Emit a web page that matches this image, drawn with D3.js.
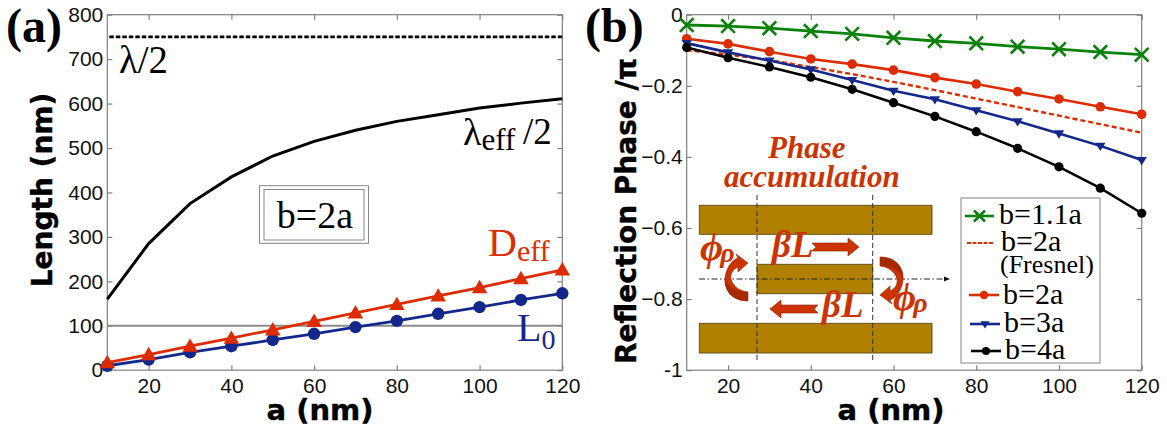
<!DOCTYPE html>
<html><head><meta charset="utf-8">
<style>
html,body{margin:0;padding:0;background:#fff}
svg{display:block}
.tick text{font-family:"Liberation Sans",Arial,sans-serif;font-size:21px;fill:#111}
.serif{font-family:"Liberation Serif",serif}
.title{font-family:"DejaVu Sans",sans-serif;font-weight:bold;font-size:28px;fill:#000;stroke:#000;stroke-width:.4px}
</style>
<script src="https://cdn.jsdelivr.net/npm/d3@7/dist/d3.min.js"></script>
</head><body>
<svg id="c" width="1167" height="434"></svg>
<script>
const aValues=[10,20,30,40,50,60,70,80,90,100,110,120];
const lambdaHalf=750;
const referenceLine=100;
const lambdaEff=[160,285,375,435,482,515,540,560,575,590,601,611];
const dEff=[17,35,54,72,91,110,129,148,167,186,206,226];
const l0=[10,24,40,54,68,82,97,111,127,142,158,173];
const phase11=[-.029,-.032,-.038,-.046,-.054,-.065,-.074,-.0805,-.09,-.097,-.105,-.1125];
const phaseFresnel=[-.1,-.112,-.128,-.147,-.167,-.189,-.212,-.236,-.26,-.284,-.308,-.332];
const phase2=[-.0675,-.082,-.104,-.1245,-.139,-.156,-.177,-.195,-.2165,-.237,-.259,-.28];
const phase3=[-.08,-.106,-.129,-.154,-.184,-.214,-.238,-.269,-.3,-.334,-.369,-.409];
const phase4=[-.092,-.121,-.147,-.176,-.21,-.2475,-.286,-.329,-.376,-.428,-.488,-.5585];
const xTicks=[20,40,60,80,100,120];
const yTicksA=[0,100,200,300,400,500,600,700,800];
const yTicksB=[0,-.2,-.4,-.6,-.8,-1];
const RED="#dd2c00",BLUE="#14288c",GREEN="#0a820a",BLACK="#000",FRAME="#808080",GOLD="#b08000",ORANGE="#cc3300";

const svg=d3.select("#c");
const topY=14.7,botY=370.2;
const xA=d3.scaleLinear().domain([10,120]).range([107.3,562.3]);
const yA=d3.scaleLinear().domain([0,800]).range([botY,topY]);
const xB=d3.scaleLinear().domain([10,120]).range([686.7,1141.7]);
const yB=d3.scaleLinear().domain([-1,0]).range([botY,topY]);

function drawFrame(x,y,yTicks,fmt){
  const g=svg.append("g");
  const [x0,x1]=x.range();
  g.append("rect").attr("x",x0).attr("y",topY).attr("width",x1-x0).attr("height",botY-topY).attr("fill","#fff").attr("stroke",FRAME).attr("stroke-width",1.2);
  const style=s=>{s.select(".domain").remove();s.selectAll("line").attr("stroke",FRAME).attr("stroke-width",1.2);};
  g.append("g").attr("transform",`translate(0,${botY})`).call(d3.axisBottom(x).tickValues(xTicks).tickSize(-5).tickPadding(8)).call(style);
  g.append("g").attr("transform",`translate(0,${topY})`).call(d3.axisTop(x).tickValues(xTicks).tickSize(-5).tickFormat("")).call(style);
  g.append("g").attr("transform",`translate(${x0},0)`).call(d3.axisLeft(y).tickValues(yTicks).tickSize(-5).tickPadding(4).tickFormat(fmt)).call(style);
  g.append("g").attr("transform",`translate(${x1},0)`).call(d3.axisRight(y).tickValues(yTicks).tickSize(-5).tickFormat("")).call(style);
}
drawFrame(xA,yA,yTicksA,d=>d);
drawFrame(xB,yB,yTicksB,d=>d===0?"0":d===-1?"-1":d3.format(".1f")(d));

function series(x,y,vals,color,w,dash){
  const line=d3.line().x((d,i)=>x(aValues[i])).y(d=>y(d));
  return svg.append("path").datum(vals).attr("d",line).attr("fill","none").attr("stroke",color).attr("stroke-width",w).attr("stroke-dasharray",dash||null);
}
function marks(x,y,vals,color,type,size){
  const g=svg.append("g");
  vals.forEach((v,i)=>marker(g,x(aValues[i]),y(v),color,type,size));
}
function marker(g,cx,cy,color,type,s){
  if(type==="circle") g.append("circle").attr("cx",cx).attr("cy",cy).attr("r",s).attr("fill",color);
  if(type==="up") g.append("path").attr("d",`M${cx},${cy-s}L${cx+s},${cy+s*.72}L${cx-s},${cy+s*.72}Z`).attr("fill",color);
  if(type==="down") g.append("path").attr("d",`M${cx-s},${cy-s*.6}L${cx+s},${cy-s*.6}L${cx},${cy+s}Z`).attr("fill",color);
  if(type==="x") g.append("path").attr("d",`M${cx-s},${cy-s}L${cx+s},${cy+s}M${cx+s},${cy-s}L${cx-s},${cy+s}`).attr("stroke",color).attr("stroke-width",2.6).attr("fill","none");
}

// panel (a)
svg.append("line").attr("x1",xA(10)).attr("x2",xA(120)).attr("y1",yA(referenceLine)).attr("y2",yA(referenceLine)).attr("stroke","#8c8c8c").attr("stroke-width",2);
svg.append("line").attr("x1",xA(10)+2).attr("x2",xA(120)).attr("y1",yA(lambdaHalf)).attr("y2",yA(lambdaHalf)).attr("stroke","#000").attr("stroke-width",2.6).attr("stroke-dasharray","4.5 2");
series(xA,yA,lambdaEff,BLACK,3);
series(xA,yA,l0,BLUE,2.8);
marks(xA,yA,l0,BLUE,"circle",6.2);
series(xA,yA,dEff,RED,2.8);
marks(xA,yA,dEff,RED,"up",7.8);

// panel (b)
series(xB,yB,phase11,GREEN,2.8);
marks(xB,yB,phase11,GREEN,"x",6.8);
series(xB,yB,phaseFresnel,RED,2.4,"5 3");
series(xB,yB,phase2,RED,2.6);
marks(xB,yB,phase2,RED,"circle",4.8);
series(xB,yB,phase3,BLUE,2.6);
marks(xB,yB,phase3,BLUE,"down",5.2);
series(xB,yB,phase4,BLACK,2.6);
marks(xB,yB,phase4,BLACK,"circle",4.6);

function text(x,y,str,size,opts={}){
  const t=svg.append("text").attr("x",x).attr("y",y).attr("class",opts.cls||"serif").attr("font-size",size).attr("fill",opts.fill||"#000");
  if(opts.weight)t.attr("font-weight",opts.weight);
  if(opts.style)t.attr("font-style",opts.style);
  if(opts.anchor)t.attr("text-anchor",opts.anchor);
  if(opts.len)t.attr("textLength",opts.len).attr("lengthAdjust","spacingAndGlyphs");
  t.text(str);return t;
}
function sub(x,y,main,s,size,subSize,dy,fill){
  const t=svg.append("text").attr("x",x).attr("y",y).attr("class","serif").attr("font-size",size).attr("fill",fill);
  t.append("tspan").text(main);
  t.append("tspan").attr("font-size",subSize).attr("dy",dy).text(s);
}
// labels
text(6,42,"(a)",48,{weight:"bold"});
text(585,42,"(b)",48,{weight:"bold"});
text(119,73,"λ/2",41,{len:49});
sub(463,145,"λ","eff",38,31,5,"#000");
text(523,144,"/2",37);
sub(488,256,"D","eff",40,30,5,RED);
sub(517,341,"L","0",40,28,8,BLUE);

// axis titles
svg.append("text").attr("class","title").attr("x",320).attr("y",420).attr("text-anchor","middle").style("font-size","29px").text("a (nm)");
svg.append("text").attr("class","title").attr("x",891).attr("y",420).attr("text-anchor","middle").style("font-size","29px").text("a (nm)");
svg.append("text").attr("class","title").attr("transform","translate(52,190) rotate(-90)").attr("text-anchor","middle").text("Length (nm)");
svg.append("text").attr("class","title").attr("transform","translate(636,211) rotate(-90)").attr("text-anchor","middle").text("Reflection Phase /π");

// b=2a box
svg.append("rect").attr("x",259.5).attr("y",185.7).attr("width",109).attr("height",57.6).attr("fill","#fff").attr("stroke","#888").attr("stroke-width",1);
svg.append("rect").attr("x",264).attr("y",189.5).attr("width",100).attr("height",50.5).attr("fill","none").attr("stroke","#888").attr("stroke-width",1);
text(315,227.7,"b=2a",38,{anchor:"middle"});

// inset
const inset=svg.append("g");
[[699.3,205.3,232.7,29],[757,264.3,115.7,29.4],[699.3,323.3,232.7,29.7]].forEach(r=>
  inset.append("rect").attr("x",r[0]).attr("y",r[1]).attr("width",r[2]).attr("height",r[3]).attr("fill",GOLD).attr("stroke","#5c4a10").attr("stroke-width",.9));
[757,872.7].forEach(x=>inset.append("line").attr("x1",x).attr("x2",x).attr("y1",195).attr("y2",363).attr("stroke","#333").attr("stroke-width",1).attr("stroke-dasharray","5 3"));
inset.append("line").attr("x1",699).attr("x2",945).attr("y1",279).attr("y2",279).attr("stroke","#222").attr("stroke-width",1).attr("stroke-dasharray","6 2.5 1.5 2.5");
inset.append("path").attr("d","M950,279L944,276.5V281.5Z").attr("fill","#111");
const arrow=d=>inset.append("path").attr("d",d).attr("fill",ORANGE).attr("stroke","#8a2200").attr("stroke-width",.6);
arrow("M812,243H848V238L859,247L848,256V251H812L816,247Z");
arrow("M818,305H781V300L770,309L781,318V313H818L814,309Z");
inset.append("path").attr("d","M748,301C731,301 724,289 725,278C726,268 732,260 738,258L736,254L748,263L738,272L738,267C733,269 730,274 731,279C733,287 740,291 748,292Z").attr("fill",ORANGE).attr("stroke","#8a2200").attr("stroke-width",.6);
inset.append("path").attr("d","M748,301C731,301 724,289 725,279C728,288 737,292 748,292Z").attr("fill","#a52800");
inset.append("path").attr("d","M880,257C897,257 904,269 903,280C902,290 896,298 890,300L892,304L880,295L890,286L890,291C895,289 898,284 897,279C895,271 888,267 880,266Z").attr("fill",ORANGE).attr("stroke","#8a2200").attr("stroke-width",.6);
inset.append("path").attr("d","M880,257C897,257 904,269 903,279C900,270 891,266 880,266Z").attr("fill","#a52800");
const it={fill:ORANGE,style:"italic",weight:"bold"};
text(768,158,"Phase",31,it);
text(724,187,"accumulation",31,it);
text(772,257,"βL",37,it);
text(822,317,"βL",37,it);
phiRho(700,260);phiRho(893,310);
function phiRho(x,y){
  const t=svg.append("text").attr("x",x).attr("y",y).attr("class","serif").attr("font-size",40).attr("fill",ORANGE).attr("font-style","italic").attr("font-weight","bold");
  t.append("tspan").text("ϕ");
  t.append("tspan").attr("font-size",28).attr("dy",2).attr("dx",-3).text("ρ");
}

// legend
svg.append("rect").attr("x",961).attr("y",198).attr("width",139).attr("height",165).attr("fill","#fff").attr("stroke","#999").attr("stroke-width",1.2);
const legendLabels=["b=1.1a","b=2a","b=2a","b=3a","b=4a"];
const lg=svg.append("g");
const leg=(x1,x2,y,color,type,s,w,dash)=>{
  lg.append("line").attr("x1",x1).attr("x2",x2).attr("y1",y).attr("y2",y).attr("stroke",color).attr("stroke-width",w).attr("stroke-dasharray",dash||null);
  if(type)marker(lg,(x1+x2)/2,y,color,type,s);
};
leg(965,994,216,GREEN,"x",5.5,2.6);
leg(967,994,243,RED,null,0,2.2,"4 1.5");
leg(969,999,295,RED,"circle",4.2,2.6);
leg(970,1000,324,BLUE,"down",4.6,2.6);
leg(971,1001,351,BLACK,"circle",4,2.6);
text(999,224,legendLabels[0],30);
text(1001,251,legendLabels[1],30);
text(1000,273,"(Fresnel)",26);
text(1003,304,legendLabels[2],30);
text(1004,332,legendLabels[3],30);
text(1005,359,legendLabels[4],30);
</script>
</body></html>
